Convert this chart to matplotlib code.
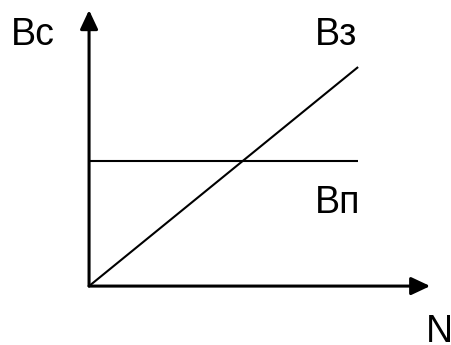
import matplotlib
matplotlib.use("Agg")
import matplotlib.pyplot as plt

# Data (arbitrary units)
N = [0.0, 1.0]
B_z = [0.0, 1.0]        # Вз – rising line
B_p = [0.571, 0.571]    # Вп – constant level
axis_x_end = 1.268
axis_y_end = 1.26

plt.rcParams['font.family'] = ['Liberation Sans', 'DejaVu Sans']

fig = plt.figure(figsize=(4.52, 3.45), dpi=100)
ax = fig.add_axes([0, 0, 1, 1])
ax.set_xlim(-0.331, 1.349)
ax.set_ylim(-0.269, 1.306)
ax.axis('off')

arrow = dict(arrowstyle='-|>,head_length=1.15,head_width=0.54',
             mutation_scale=10, lw=2.2, color='black',
             shrinkA=0, shrinkB=0)
ax.annotate('', xy=(axis_x_end, 0), xytext=(0, 0), arrowprops=arrow)
ax.annotate('', xy=(0, axis_y_end), xytext=(0, 0), arrowprops=arrow)

ax.plot(N, B_z, color='black', lw=1.5, solid_capstyle='butt')
ax.plot(N, B_p, color='black', lw=1.5, solid_capstyle='butt')

fs = 27
ax.text(-0.290, 1.100, 'Вс', fontsize=fs, ha='left', va='baseline')
ax.text(0.840, 1.100, 'Вз', fontsize=fs, ha='left', va='baseline')
ax.text(0.840, 0.333, 'Вп', fontsize=fs, ha='left', va='baseline')
ax.text(1.252, -0.255, 'N', fontsize=fs, ha='left', va='baseline')

fig.savefig('out.png', dpi=100)
